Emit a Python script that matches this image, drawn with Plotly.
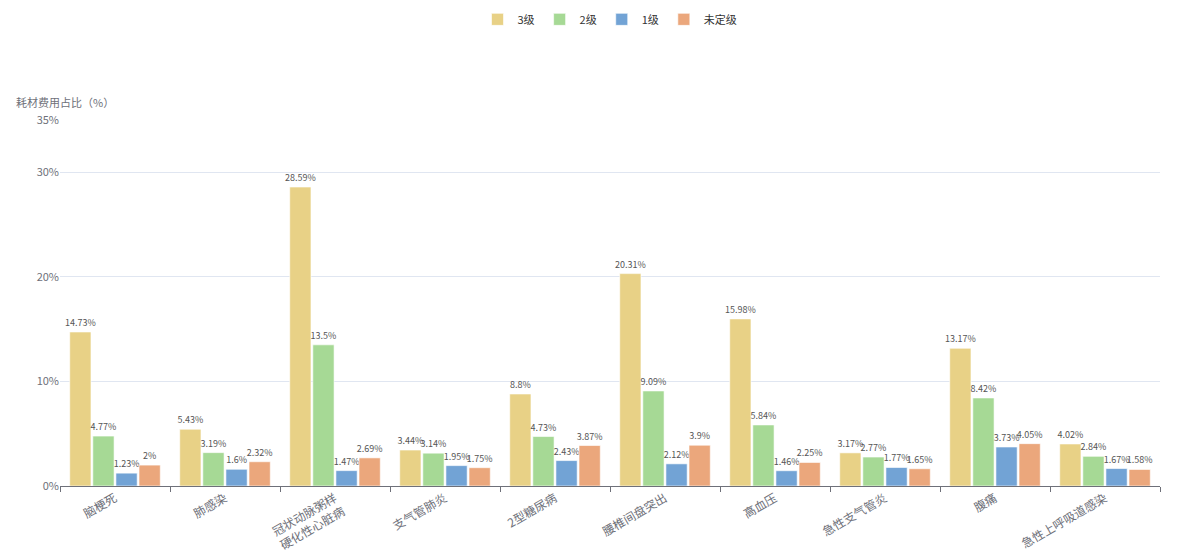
import plotly.graph_objects as go

# 病种
categories = ['脑梗死', '肺感染', '冠状动脉粥样<br>硬化性心脏病', '支气管肺炎', '2型糖尿病',
              '腰椎间盘突出', '高血压', '急性支气管炎', '腹痛', '急性上呼吸道感染']

# 耗材费用占比（%）
level3 = [14.73, 5.43, 28.59, 3.44, 8.8, 20.31, 15.98, 3.17, 13.17, 4.02]
level2 = [4.77, 3.19, 13.5, 3.14, 4.73, 9.09, 5.84, 2.77, 8.42, 2.84]
level1 = [1.23, 1.6, 1.47, 1.95, 2.43, 2.12, 1.46, 1.77, 3.73, 1.67]
unrated = [2, 2.32, 2.69, 1.75, 3.87, 3.9, 2.25, 1.65, 4.05, 1.58]

y_ticks = [0, 10, 20, 30, 35]

series = [('3级', level3, '#E8D186'), ('2级', level2, '#A6D995'),
          ('1级', level1, '#72A3D5'), ('未定级', unrated, '#EBA77C')]

font = 'Noto Sans CJK SC, Microsoft YaHei, sans-serif'

fig = go.Figure()
for name, vals, color in series:
    fig.add_trace(go.Bar(
        x=categories, y=vals, name=name,
        marker=dict(color=color, line=dict(color='rgba(255,255,255,0.6)', width=1)),
        text=[f'{v:g}%' for v in vals], textposition='outside', constraintext='none',
        textfont=dict(size=9, color='#555555'), cliponaxis=False,
    ))

# page is rendered with a small offset, so the figure is a bit smaller than the window
fig.update_layout(
    width=1184, height=547,
    margin=dict(l=52, r=32, t=112, b=69, autoexpand=False),
    plot_bgcolor='white', paper_bgcolor='white',
    font=dict(family=font, size=12, color='#6E7079'),
    barmode='group', bargap=0.16, bargroupgap=0.08,
    legend=dict(orientation='h', x=0.5, xanchor='center',
                y=1.275, yanchor='middle',
                font=dict(size=11, color='#333333')),
    showlegend=True,
)
fig.update_xaxes(
    tickangle=-30, showline=True, linecolor='#6E7079', linewidth=1,
    ticks='outside', tickson='boundaries', ticklen=5, tickcolor='#6E7079',
    tickfont=dict(size=12, color='#6E7079'), showgrid=False,
)
fig.update_yaxes(
    range=[0, 35], tickvals=y_ticks, ticktext=[f'{t}%' for t in y_ticks],
    showgrid=True, gridcolor='#E0E6F1', zeroline=False, showline=False,
    tickfont=dict(size=11, color='#6E7079'),
)
fig.add_annotation(text='耗材费用占比（%）', xref='paper', yref='paper',
                   x=-0.042, y=1.049, xanchor='left', yanchor='middle',
                   showarrow=False, font=dict(size=11, color='#6E7079'))

fig.write_html('out.html')
